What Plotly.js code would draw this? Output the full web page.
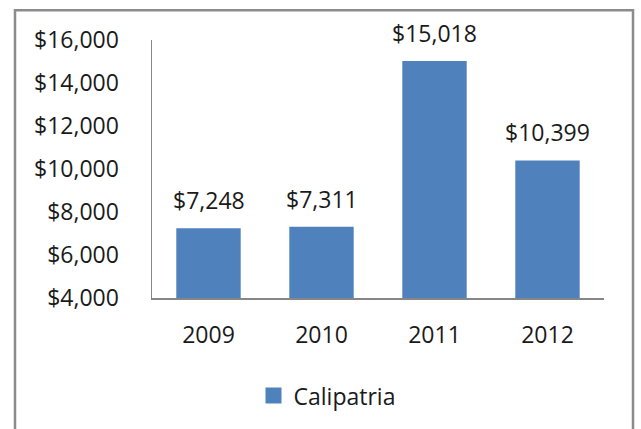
<!DOCTYPE html>
<html><head><meta charset="utf-8">
<script src="https://cdn.plot.ly/plotly-3.0.1.min.js"></script>
<style>html,body{margin:0;padding:0;background:#fff}#c{width:641px;height:429px}</style>
</head><body><div id="c"></div>
<script>
const years = ['2009', '2010', '2011', '2012'];
const values = [7248, 7311, 15018, 10399];
const seriesName = 'Calipatria';
const yTicks = [4000, 6000, 8000, 10000, 12000, 14000, 16000];

const W = 641, H = 429;
const L = 152, R = 37, T = 40, B = 128;
const pw = W - L - R, ph = H - T - B;
const px = x => (x - L) / pw;
const py = y => (H - B - y) / ph;
const FONT = '"Open Sans", Lato, sans-serif';
const FS = 23;
const COLOR = '#4F81BD';

const fmt = v => '$' + v.toLocaleString('en-US');

const bars = {
  type: 'bar', x: years, y: values, name: seriesName, showlegend: false,
  marker: {color: COLOR}, hoverinfo: 'skip'
};
const legendItem = {
  type: 'scatter', mode: 'markers', x: [years[0]], y: [null], name: seriesName,
  marker: {color: COLOR, symbol: 'square', size: 16}, hoverinfo: 'skip'
};

const annotations = years.map((yr, i) => ({
  x: i, y: values[i], xref: 'x', yref: 'y', text: fmt(values[i]),
  showarrow: false, yanchor: 'bottom', yshift: 10,
  font: {family: FONT, size: FS, color: '#1a1a1a'}
}));

const layout = {
  width: W, height: H,
  margin: {l: L, r: R, t: T, b: B, pad: 0},
  paper_bgcolor: '#fff', plot_bgcolor: '#fff',
  font: {family: FONT, size: FS, color: '#1a1a1a'},
  bargap: 0.43,
  showlegend: true,
  legend: {orientation: 'h', x: px(327), xanchor: 'center', y: py(378), yanchor: 'top',
           itemwidth: 30, font: {family: FONT, size: FS, color: '#1a1a1a'}},
  xaxis: {type: 'category', categoryorder: 'array', categoryarray: years,
          range: [-0.5, years.length - 0.5],
          showline: true, linecolor: '#868686', linewidth: 1.5,
          ticks: 'outside', ticklen: 16, tickcolor: 'rgba(0,0,0,0)',
          showgrid: false, zeroline: false, fixedrange: true},
  yaxis: {range: [4000, 16000], tickvals: yTicks, ticktext: yTicks.map(fmt),
          showline: true, linecolor: '#868686', linewidth: 1.5,
          ticks: 'outside', ticklen: 27, tickcolor: 'rgba(0,0,0,0)',
          showgrid: false, zeroline: false, fixedrange: true},
  annotations: annotations,
  shapes: [{type: 'rect', xref: 'paper', yref: 'paper',
            x0: px(15), x1: px(633), y0: py(440), y1: py(10),
            line: {color: '#8c8c8c', width: 2.5}, fillcolor: 'rgba(0,0,0,0)', layer: 'below'}]
};

Plotly.newPlot('c', [bars, legendItem], layout, {displayModeBar: false, staticPlot: true});
</script></body></html>
